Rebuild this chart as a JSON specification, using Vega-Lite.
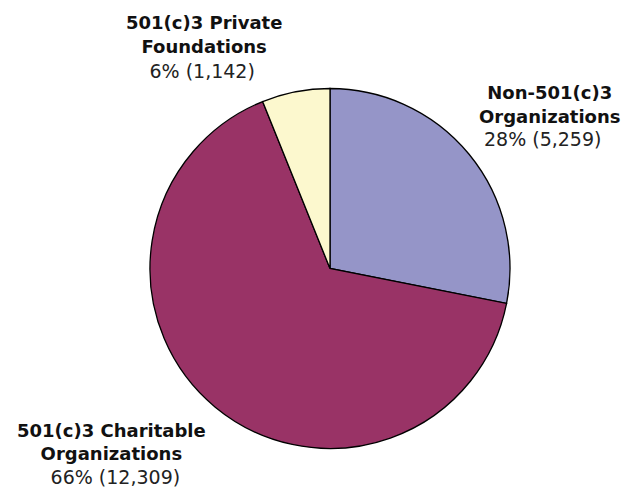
{
  "$schema": "https://vega.github.io/schema/vega-lite/v6.json",
  "width": 590,
  "height": 437,
  "autosize": {"type": "none"},
  "padding": {"left": 35, "top": 50, "right": 0, "bottom": 0},
  "background": "white",
  "config": {"view": {"stroke": null}},
  "data": {
    "values": [
      {"key": "Non-501(c)3 Organizations", "title": "Non-501(c)3\nOrganizations", "info": "28% (5,259)", "count": 5259, "order": 1},
      {"key": "501(c)3 Charitable Organizations", "title": "501(c)3 Charitable\nOrganizations", "info": "66% (12,309)", "count": 12309, "order": 2},
      {"key": "501(c)3 Private Foundations", "title": "501(c)3 Private\nFoundations", "info": "6% (1,142)", "count": 1142, "order": 3}
    ]
  },
  "encoding": {
    "theta": {"field": "count", "type": "quantitative", "stack": true},
    "order": {"field": "order", "type": "quantitative"}
  },
  "layer": [
    {
      "mark": {"type": "arc", "outerRadius": 180, "stroke": "#000000", "strokeWidth": 1.3},
      "encoding": {
        "color": {
          "field": "key", "type": "nominal", "legend": null,
          "scale": {
            "domain": ["Non-501(c)3 Organizations", "501(c)3 Charitable Organizations", "501(c)3 Private Foundations"],
            "range": ["#9595C8", "#993366", "#FCF8CE"]
          }
        }
      }
    },
    {
      "mark": {"type": "text", "radius": 230, "font": "DejaVu Sans", "fontSize": 18, "fontWeight": "bold", "lineHeight": 23.5, "lineBreak": "\n", "align": "center", "baseline": "middle", "dx": 42, "dy": -28, "fill": "#111111"},
      "encoding": {
        "detail": {"field": "key", "type": "nominal"},
        "text": {"condition": {"test": "datum.key === 'Non-501(c)3 Organizations'", "field": "title"}, "value": ""}
      }
    },
    {
      "mark": {"type": "text", "radius": 230, "font": "DejaVu Sans", "fontSize": 19, "align": "center", "baseline": "middle", "dx": 35, "dy": 18, "fill": "#222222"},
      "encoding": {
        "detail": {"field": "key", "type": "nominal"},
        "text": {"condition": {"test": "datum.key === 'Non-501(c)3 Organizations'", "field": "info"}, "value": ""}
      }
    },
    {
      "mark": {"type": "text", "radius": 230, "font": "DejaVu Sans", "fontSize": 18, "fontWeight": "bold", "lineHeight": 23.5, "lineBreak": "\n", "align": "center", "baseline": "middle", "dx": -72, "dy": -14, "fill": "#111111"},
      "encoding": {
        "detail": {"field": "key", "type": "nominal"},
        "text": {"condition": {"test": "datum.key === '501(c)3 Charitable Organizations'", "field": "title"}, "value": ""}
      }
    },
    {
      "mark": {"type": "text", "radius": 230, "font": "DejaVu Sans", "fontSize": 19, "align": "center", "baseline": "middle", "dx": -68, "dy": 32, "fill": "#222222"},
      "encoding": {
        "detail": {"field": "key", "type": "nominal"},
        "text": {"condition": {"test": "datum.key === '501(c)3 Charitable Organizations'", "field": "info"}, "value": ""}
      }
    },
    {
      "mark": {"type": "text", "radius": 230, "font": "DejaVu Sans", "fontSize": 18, "fontWeight": "bold", "lineHeight": 23.5, "lineBreak": "\n", "align": "center", "baseline": "middle", "dx": -82, "dy": -18.5, "fill": "#111111"},
      "encoding": {
        "detail": {"field": "key", "type": "nominal"},
        "text": {"condition": {"test": "datum.key === '501(c)3 Private Foundations'", "field": "title"}, "value": ""}
      }
    },
    {
      "mark": {"type": "text", "radius": 230, "font": "DejaVu Sans", "fontSize": 19, "align": "center", "baseline": "middle", "dx": -84, "dy": 29, "fill": "#222222"},
      "encoding": {
        "detail": {"field": "key", "type": "nominal"},
        "text": {"condition": {"test": "datum.key === '501(c)3 Private Foundations'", "field": "info"}, "value": ""}
      }
    }
  ]
}
